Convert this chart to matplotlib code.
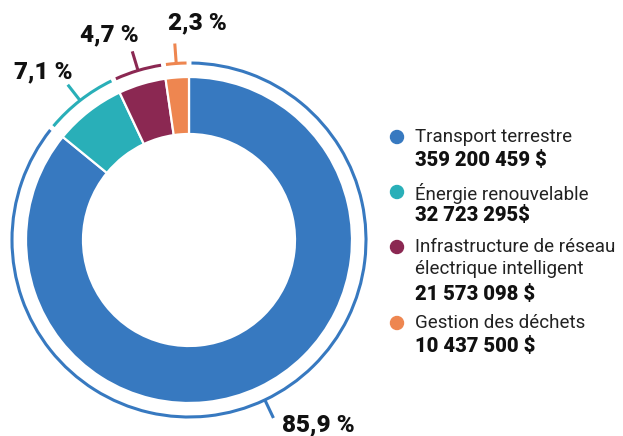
import numpy as np
import matplotlib.pyplot as plt
from matplotlib.patches import Arc, Circle

# chart data
categories = ['Transport terrestre', 'Énergie renouvelable',
              'Infrastructure de réseau\nélectrique intelligent', 'Gestion des déchets']
amounts = ['359 200 459 $', '32 723 295$', '21 573 098 $', '10 437 500 $']
shares = [85.9, 7.1, 4.7, 2.3]
share_labels = ['85,9 %', '7,1 %', '4,7 %', '2,3 %']

colors = ['#3779c0', '#29afb8', '#8b2852', '#ee8650']

plt.rcParams['font.family'] = ['Roboto', 'DejaVu Sans']

W, H = 623, 436
fig = plt.figure(figsize=(W / 100, H / 100), dpi=100)
ax = fig.add_axes([0, 0, 1, 1])

def Y(py):
    # pixel row -> data y
    return H - py

cx, cy = 189, Y(240)
R = 163          # outer radius of donut
ring_w = 57      # donut width
R_ring = 177     # thin outer ring
tick_len = 20

wedges, _ = ax.pie(shares, colors=colors, startangle=90, counterclock=False,
                   radius=R, center=(cx, cy), frame=True,
                   wedgeprops=dict(width=ring_w, edgecolor='white', linewidth=1.6))

# outer arcs + ticks
gap = 0.8
for w, c in zip(wedges, colors):
    t1, t2 = w.theta1, w.theta2
    ax.add_patch(Arc((cx, cy), 2 * R_ring, 2 * R_ring, theta1=t1 + gap, theta2=t2 - gap,
                     color=c, lw=2.2))
    a = np.deg2rad((t1 + t2) / 2)
    ax.plot([cx + R_ring * np.cos(a), cx + (R_ring + tick_len) * np.cos(a)],
            [cy + R_ring * np.sin(a), cy + (R_ring + tick_len) * np.sin(a)],
            color=c, lw=2.2, solid_capstyle='butt')

# percentage labels (pixel anchor, alignment)
label_pos = [((282, 425), 'left'), ((43, 72), 'center'), ((109, 35), 'center'), ((197, 23), 'center')]
for txt, ((px, py), ha) in zip(share_labels, label_pos):
    ax.text(px, Y(py), txt, ha=ha, va='center', fontsize=17.5, fontweight=900, color='#111111')

# legend
leg_rows = [137, 192, 247, 323]
for name, amt, c, py in zip(categories, amounts, colors, leg_rows):
    ax.add_patch(Circle((397, Y(py)), 6.5, color=c))
    n_lines = name.count('\n') + 1
    ax.text(415, Y(py - 9), name, ha='left', va='top', fontsize=13.5,
            color='#222222', linespacing=1.3)
    ax.text(415, Y(py + 23.5 * n_lines), amt, ha='left', va='center', fontsize=14.5,
            fontweight=900, color='#111111')

ax.set_xlim(0, W)
ax.set_ylim(0, H)
ax.set_aspect('equal')
ax.axis('off')

fig.savefig('out.png', dpi=100)
